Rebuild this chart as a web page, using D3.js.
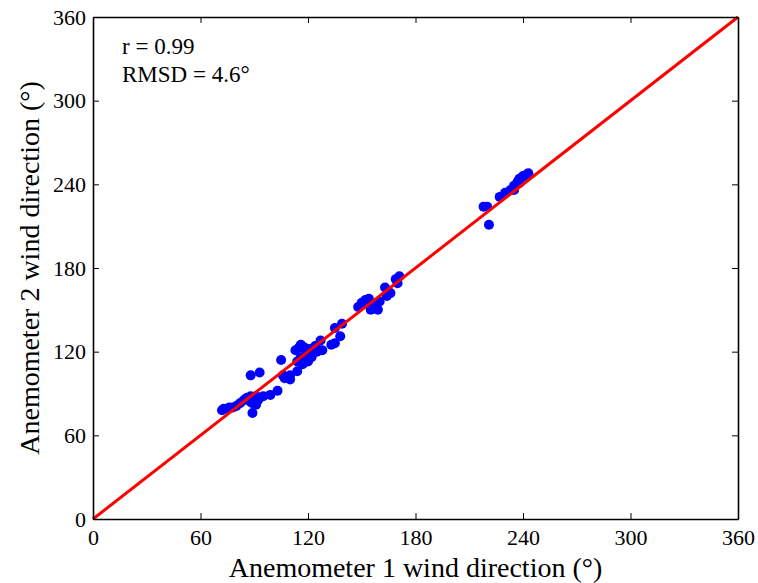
<!DOCTYPE html>
<html>
<head>
<meta charset="utf-8">
<script src="https://cdn.jsdelivr.net/npm/d3@7"></script>
<style>
  body { margin: 0; background: #fff; }
  text { font-family: "Liberation Serif", "Times New Roman", serif; fill: #000; }
</style>
</head>
<body>
<div id="chart"></div>
<script>
// anemometer 1 vs anemometer 2 wind direction (deg)
const anem1 = [
  72, 73, 75, 76, 78, 80, 82, 84, 85, 86, 87, 88, 89, 90, 89, 91, 92, 93, 89, 88, 93, 95, 99, 103,
  105, 106, 107, 110, 110, 90, 88, 91,
  113, 115, 118, 121, 116, 119, 122, 114, 117, 120, 114, 124, 125, 127, 128, 116, 119,
  133, 135, 138, 135, 139,
  148, 150, 152, 154, 156, 158, 159, 155, 160, 163, 164, 166, 169, 171, 170,
  218, 220, 221, 227, 230, 233, 235, 237, 238, 240, 242, 243, 235, 238, 241
];
const anem2 = [
  78, 79, 79, 80, 80, 81, 83, 85, 86, 87, 87, 88, 85, 84, 83, 82, 85, 87, 76, 103, 105, 88, 89, 92,
  114, 103, 101, 103, 100, 86, 84, 88,
  121, 123, 123, 122, 116, 118, 116, 106, 111, 113, 113, 124, 120, 128, 121, 125, 121,
  125, 126, 131, 137, 140,
  152, 155, 157, 158, 154, 152, 150, 150, 156, 166, 160, 162, 172, 174, 169,
  224, 224, 211, 231, 234, 236, 239, 242, 244, 246, 247, 248, 236, 241, 246
];
const ticks = [0, 60, 120, 180, 240, 300, 360];
const statLines = ['r = 0.99', 'RMSD = 4.6°'];
const xLabel = 'Anemometer 1 wind direction (°)';
const yLabel = 'Anemometer 2 wind direction (°)';

const width = 758, height = 583;
const margin = { top: 17, right: 20, bottom: 64, left: 93 };
const w = width - margin.left - margin.right;
const h = height - margin.top - margin.bottom;
const serif = '"Liberation Serif", "Times New Roman", serif';

const svg = d3.select('#chart').append('svg')
  .attr('width', width)
  .attr('height', height)
  .attr('font-family', serif);

const g = svg.append('g')
  .attr('transform', `translate(${margin.left},${margin.top})`);

const x = d3.scaleLinear().domain([0, 360]).range([0, w]);
const y = d3.scaleLinear().domain([0, 360]).range([h, 0]);

const pts = anem1.map((d, i) => ({ a: d, b: anem2[i] }));

// points
g.selectAll('.dot')
  .data(pts)
  .enter().append('circle')
  .attr('class', 'dot')
  .attr('cx', d => x(d.a))
  .attr('cy', d => y(d.b))
  .attr('r', 5)
  .attr('fill', '#0000ff');

// 1:1 line
g.append('line')
  .attr('x1', x(0)).attr('y1', y(0))
  .attr('x2', x(360)).attr('y2', y(360))
  .attr('stroke', '#ff0000')
  .attr('stroke-width', 3);

// axes, ticks inside like matlab
const fmt = d3.format('d');
const xAxis = g.append('g').attr('transform', `translate(0,${h})`)
  .call(d3.axisBottom(x).tickValues(ticks).tickFormat(fmt).tickSizeInner(-6).tickSizeOuter(0).tickPadding(10));
const yAxis = g.append('g')
  .call(d3.axisLeft(y).tickValues(ticks).tickFormat(fmt).tickSizeInner(-6).tickSizeOuter(0).tickPadding(7));
g.append('g')
  .call(d3.axisTop(x).tickValues(ticks).tickFormat('').tickSizeInner(-6).tickSizeOuter(0));
g.append('g').attr('transform', `translate(${w},0)`)
  .call(d3.axisRight(y).tickValues(ticks).tickFormat('').tickSizeInner(-6).tickSizeOuter(0));

g.selectAll('g').attr('font-family', serif);
g.selectAll('.domain').attr('stroke', '#000').attr('stroke-width', 1.6);
g.selectAll('.tick line').attr('stroke', '#000');
g.selectAll('.tick text')
  .style('font-family', serif)
  .style('font-size', '22px');
xAxis.selectAll('.tick text').attr('dy', '0.72em');

// stats text
g.selectAll('.stat')
  .data(statLines)
  .enter().append('text')
  .attr('class', 'stat')
  .attr('x', 29)
  .attr('y', (d, i) => 37 + i * 28)
  .style('font-size', '23px')
  .text(d => d);

// axis titles
svg.append('text')
  .attr('x', margin.left + w / 2)
  .attr('y', 577)
  .attr('text-anchor', 'middle')
  .style('font-size', '28px')
  .text(xLabel);

svg.append('text')
  .attr('transform', `translate(39,${margin.top + h / 2}) rotate(-90)`)
  .attr('text-anchor', 'middle')
  .style('font-size', '28px')
  .text(yLabel);
</script>
</body>
</html>
